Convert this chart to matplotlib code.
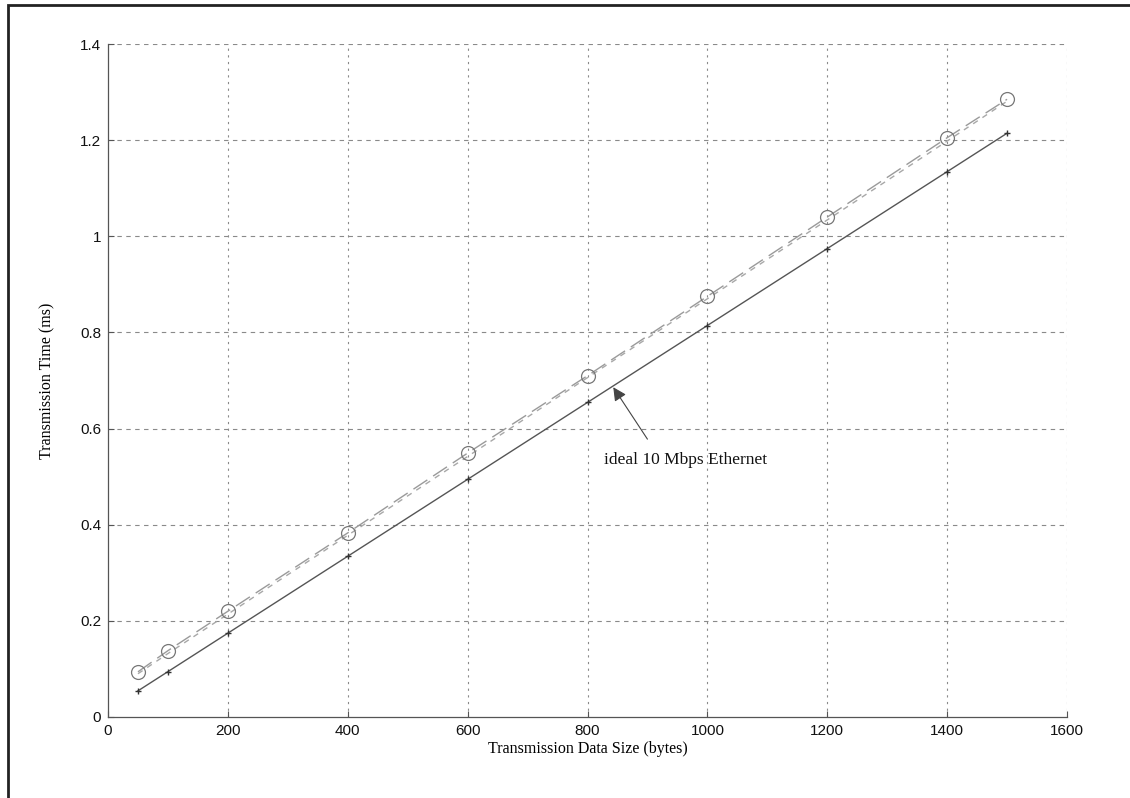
import matplotlib
matplotlib.use("Agg")
import matplotlib.pyplot as plt
from matplotlib.patches import Rectangle

# Frame sizes in bytes
sizes = [50, 100, 200, 400, 600, 800, 1000, 1200, 1400, 1500]
# Measured transmission time (ms)
measured = [0.094, 0.138, 0.220, 0.383, 0.549, 0.710, 0.875, 1.040, 1.205, 1.285]
# Linear fit of the measured times (ms)
fitted = [0.090, 0.132, 0.214, 0.378, 0.542, 0.706, 0.870, 1.034, 1.198, 1.281]
# Ideal 10 Mbps Ethernet time (ms)
ideal = [0.0544, 0.0944, 0.1744, 0.3344, 0.4944, 0.6544, 0.8144, 0.9744, 1.1344, 1.2144]

xticks = [0, 200, 400, 600, 800, 1000, 1200, 1400, 1600]
yticks = [0, 0.2, 0.4, 0.6, 0.8, 1.0, 1.2, 1.4]
ytick_labels = ["0", "0.2", "0.4", "0.6", "0.8", "1", "1.2", "1.4"]

fig = plt.figure(figsize=(11.3, 7.98), dpi=100)
fig.patch.set_facecolor("white")
ax = fig.add_axes([108 / 1130, 81 / 798, 959 / 1130, 673 / 798])

grid_c = "#8a8a8a"
for xv in xticks[1:]:
    ax.axvline(xv, color=grid_c, lw=0.8, ls=(0, (2, 4)), zorder=0)
for yv in yticks[1:]:
    ax.axhline(yv, color=grid_c, lw=0.8, ls=(0, (4, 4)), zorder=0)

ax.plot(sizes, measured, color="#9a9a9a", lw=1.0, ls=(0, (12, 5)),
        marker="o", ms=10, mfc="none", mec="#777777", mew=0.9, zorder=3)
ax.plot(sizes, fitted, color="#a8a8a8", lw=1.0, ls=(0, (4, 4)), zorder=2)
ax.plot(sizes, ideal, color="#555555", lw=1.0, ls="-",
        marker="+", ms=4, mec="#333333", mew=1.0, zorder=3)

# Label and pointer for the ideal curve
ax.text(827, 0.535, "ideal 10 Mbps Ethernet", fontsize=12.5,
        family="Liberation Serif", va="center", ha="left", color="#111111")
ax.annotate("", xy=(843, 0.686), xytext=(900, 0.578), textcoords="data",
            arrowprops=dict(arrowstyle="-|>", color="#444444", lw=0.8,
                            shrinkA=0, shrinkB=0, mutation_scale=20,
                            facecolor="#111111"))

ax.set_xlim(0, 1600)
ax.set_ylim(0, 1.4)
ax.set_xticks(xticks)
ax.set_yticks(yticks)
ax.set_yticklabels(ytick_labels)
ax.tick_params(direction="in", length=4, labelsize=11, color="#555555", pad=5,
               labelcolor="#111111")
for lab in ax.get_xticklabels() + ax.get_yticklabels():
    lab.set_family("Liberation Sans")

for side in ("top", "right"):
    ax.spines[side].set_visible(False)
for side in ("left", "bottom"):
    ax.spines[side].set_color("#555555")
    ax.spines[side].set_linewidth(0.9)

ax.set_xlabel("Transmission Data Size (bytes)", family="Liberation Serif",
              fontsize=11.5, labelpad=2)
ax.set_ylabel("Transmission Time (ms)", family="Liberation Serif",
              fontsize=11.5, labelpad=18)

# Outer frame around the whole figure
fig.patches.append(Rectangle((8 / 1130, -0.01), 1.1, 1.01 - 5 / 798,
                             transform=fig.transFigure, fill=False,
                             edgecolor="#222222", lw=2.0))

fig.savefig("out.png", dpi=100, facecolor="white")
